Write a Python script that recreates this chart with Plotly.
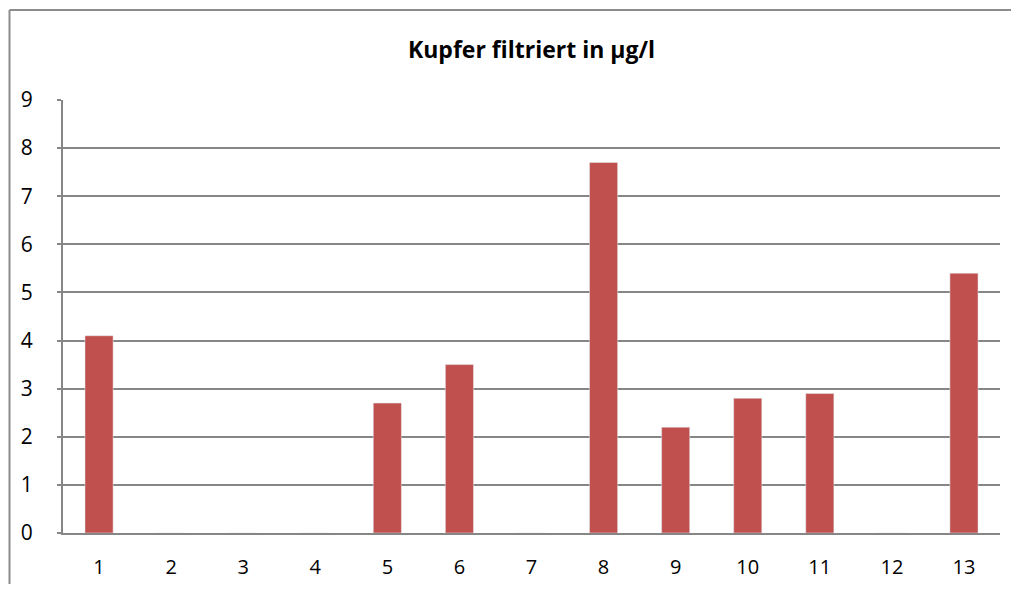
import plotly.graph_objects as go

categories = ["1", "2", "3", "4", "5", "6", "7", "8", "9", "10", "11", "12", "13"]
values = [4.1, 0, 0, 0, 2.7, 3.5, 0, 7.7, 2.2, 2.8, 2.9, 0, 5.4]
y_ticks = [0, 1, 2, 3, 4, 5, 6, 7, 8, 9]
title_text = "Kupfer filtriert in µg/l"

# page body has an 8px margin; figure sized so the screen positions match
OFF = 8
W, H = 1019 - 2 * OFF, 594 - 2 * OFF - 2
L, T = 63 - OFF, 100 - OFF
R = W - (1000 - OFF)
B = H - (533 - OFF)
pw, ph = W - L - R, H - T - B

fig = go.Figure(go.Bar(
    x=categories, y=values,
    marker=dict(color="#C0504D"),
    width=0.39,
))

def sx(px):  # screen px -> paper x
    return (px - OFF - L) / pw

def sy(py):  # screen px -> paper y
    return (H - B - (py - OFF)) / ph

frame = dict(color="#8C8C8C", width=2)
right_edge = sx(OFF + W)
bottom_edge = sy(OFF + H)
fig.add_shape(type="line", xref="paper", yref="paper",
              x0=sx(9.5), x1=right_edge, y0=sy(10), y1=sy(10), line=frame, layer="below")
fig.add_shape(type="line", xref="paper", yref="paper",
              x0=sx(9.5), x1=sx(9.5), y0=sy(10), y1=bottom_edge, line=frame, layer="below")

FONT = "Open Sans, Liberation Sans, sans-serif"
fig.update_layout(
    width=W, height=H,
    margin=dict(l=L, r=R, t=T, b=B, pad=0, autoexpand=False),
    paper_bgcolor="white", plot_bgcolor="white",
    font=dict(family=FONT, color="#000000", size=21),
    title=dict(text="<b>" + title_text + "</b>", x=0.5, xref="paper", xanchor="center",
               y=1 - (50 - OFF) / H, yanchor="middle",
               font=dict(size=23, family=FONT)),
    showlegend=False,
)
fig.update_xaxes(
    type="category", showline=True, linecolor="#868686", linewidth=2,
    ticks="", showgrid=False, tickfont=dict(size=20), ticklabelstandoff=15,
    automargin=False,
)
fig.update_yaxes(
    range=[0, 9], tickvals=y_ticks, showline=True, linecolor="#868686", linewidth=2,
    showgrid=True, gridcolor="#868686", gridwidth=2, zeroline=False,
    ticks="outside", ticklen=4, tickcolor="#868686", tickwidth=2,
    tickfont=dict(size=21), ticklabelstandoff=20, automargin=False,
)

fig.write_html("out.html")
